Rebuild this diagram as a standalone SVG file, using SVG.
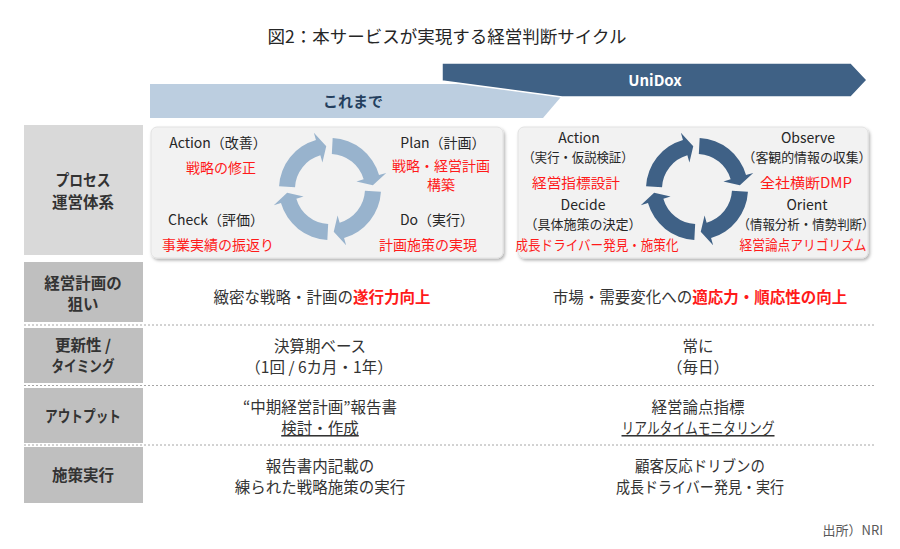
<svg xmlns="http://www.w3.org/2000/svg" xmlns:xlink="http://www.w3.org/1999/xlink" width="900" height="549" viewBox="0 0 900 549">
<defs>
<style>
text{font-family:"Noto Sans CJK JP","Noto Sans",sans-serif;}
.title{font-size:17.5px;fill:#262626;}
.hdr{font-size:15.5px;font-weight:bold;fill:#333;text-anchor:middle;}
.blk{font-size:14px;fill:#262626;text-anchor:middle;}
.sub{font-size:13px;fill:#262626;text-anchor:middle;}
.red{font-size:14px;fill:#ff1a1a;text-anchor:middle;}
.cell{font-size:15.5px;fill:#333;text-anchor:middle;}
.em{fill:#ff1a1a;font-weight:bold;}
.hcell1{fill:#d9d9d9;}
.hcell{fill:#bfbfbf;}
.panel{fill:#f2f2f2;stroke:#e2e2e2;stroke-width:1;}
.dots{stroke:#a6a6a6;stroke-width:1;stroke-dasharray:2 2;}
</style>
<filter id="sh" x="-5%" y="-5%" width="112%" height="115%">
<feDropShadow dx="1.5" dy="2" stdDeviation="1.5" flood-color="#000" flood-opacity="0.3"/>
</filter>
<path id="arc" d="M 2.669 -50.930 A 51 51 0 0 1 49.024 -14.058 L 56.234 -16.125 L 42.836 -3.748 L 26.435 -7.580 L 33.644 -9.647 A 35 35 0 0 0 1.832 -34.952 Z"/>
</defs>
<rect width="900" height="549" fill="#fff"/>

<text class="title" x="447" y="43" text-anchor="middle">図2：本サービスが実現する経営判断サイクル</text>

<g id="banner-koremade">
<polygon points="150,84 572,84 543,118 150,118" fill="#bccee0"/>
<text x="353" y="107" font-size="15" font-weight="bold" fill="#243f5e" text-anchor="middle">これまで</text>
</g>
<g id="banner-unidox">
<polygon points="442,63 851,63 867,80 851,97 562,97 442,81" fill="#3f6185" stroke="#fff" stroke-width="1.5"/>
<text x="655" y="86" font-size="15" font-weight="bold" fill="#fff" text-anchor="middle">UniDox</text>
</g>

<g id="row-labels">
<rect class="hcell1" x="24" y="125" width="119" height="130"/>
<text class="hdr" x="83" y="186" textLength="55" lengthAdjust="spacingAndGlyphs">プロセス</text>
<text class="hdr" x="83" y="208">運営体系</text>
<rect class="hcell" x="24" y="262" width="119" height="60"/>
<text class="hdr" x="83" y="289">経営計画の</text>
<text class="hdr" x="83" y="310">狙い</text>
<rect class="hcell" x="24" y="328" width="119" height="55"/>
<text class="hdr" x="83" y="351">更新性 /</text>
<text class="hdr" x="83" y="372" textLength="63" lengthAdjust="spacingAndGlyphs">タイミング</text>
<rect class="hcell" x="24" y="388" width="119" height="55"/>
<text class="hdr" x="83" y="422" textLength="76" lengthAdjust="spacingAndGlyphs">アウトプット</text>
<rect class="hcell" x="24" y="447" width="119" height="56"/>
<text class="hdr" x="83" y="481">施策実行</text>
</g>

<g id="separators">
<line class="dots" x1="24" y1="325" x2="875" y2="325"/>
<line class="dots" x1="24" y1="385.5" x2="875" y2="385.5"/>
<line class="dots" x1="24" y1="445" x2="875" y2="445"/>
</g>

<g id="panel-pdca">
<rect class="panel" x="151" y="127" width="352" height="131" rx="6" filter="url(#sh)"/>
<g fill="#98b3cd">
<use xlink:href="#arc" transform="translate(330,189)"/>
<use xlink:href="#arc" transform="translate(330,189) rotate(90)"/>
<use xlink:href="#arc" transform="translate(330,189) rotate(180)"/>
<use xlink:href="#arc" transform="translate(330,189) rotate(270)"/>
</g>
<text class="blk" x="218" y="148">Action（改善）</text>
<text class="red" x="221" y="173">戦略の修正</text>
<text class="blk" x="443" y="148">Plan（計画）</text>
<text class="red" x="441" y="171" textLength="98" lengthAdjust="spacingAndGlyphs">戦略・経営計画</text>
<text class="red" x="441" y="190">構築</text>
<text class="blk" x="216" y="225">Check（評価）</text>
<text class="red" x="218" y="250">事業実績の振返り</text>
<text class="blk" x="437" y="225">Do（実行）</text>
<text class="red" x="428" y="250">計画施策の実現</text>
</g>

<g id="panel-ooda">
<rect class="panel" x="518" y="127" width="350" height="131" rx="6" filter="url(#sh)"/>
<g fill="#3f6186">
<use xlink:href="#arc" transform="translate(697,189)"/>
<use xlink:href="#arc" transform="translate(697,189) rotate(90)"/>
<use xlink:href="#arc" transform="translate(697,189) rotate(180)"/>
<use xlink:href="#arc" transform="translate(697,189) rotate(270)"/>
</g>
<text class="blk" x="579" y="143">Action</text>
<text class="sub" x="578" y="162" textLength="111" lengthAdjust="spacingAndGlyphs">（実行・仮説検証）</text>
<text class="red" x="576" y="188" textLength="88" lengthAdjust="spacingAndGlyphs">経営指標設計</text>
<text class="blk" x="583" y="210">Decide</text>
<text class="sub" x="583" y="229" textLength="117" lengthAdjust="spacingAndGlyphs">（具体施策の決定）</text>
<text class="red" x="597" y="250" textLength="163" lengthAdjust="spacingAndGlyphs">成長ドライバー発見・施策化</text>
<text class="blk" x="808" y="143">Observe</text>
<text class="sub" x="807" y="162" textLength="129" lengthAdjust="spacingAndGlyphs">（客観的情報の収集）</text>
<text class="red" x="806" y="188" textLength="92" lengthAdjust="spacingAndGlyphs">全社横断DMP</text>
<text class="blk" x="807" y="210">Orient</text>
<text class="sub" x="806" y="229" textLength="137" lengthAdjust="spacingAndGlyphs">（情報分析・情勢判断）</text>
<text class="red" x="803" y="250" textLength="127" lengthAdjust="spacingAndGlyphs">経営論点アリゴリズム</text>
</g>

<g id="row-aim">
<text class="cell" x="322" y="303">緻密な戦略・計画の<tspan class="em">遂行力向上</tspan></text>
<text class="cell" x="700" y="303">市場・需要変化への<tspan class="em">適応力・順応性の向上</tspan></text>
</g>
<g id="row-timing">
<text class="cell" x="320" y="352">決算期ベース</text>
<text class="cell" x="319" y="373">（1回 / 6カ月・1年）</text>
<text class="cell" x="698" y="352">常に</text>
<text class="cell" x="698" y="373">（毎日）</text>
</g>
<g id="row-output">
<text class="cell" x="320" y="413">“中期経営計画”報告書</text>
<text class="cell" x="320" y="434" text-decoration="underline">検討・作成</text>
<text class="cell" x="698" y="413">経営論点指標</text>
<text class="cell" x="698" y="434" text-decoration="underline" textLength="153" lengthAdjust="spacingAndGlyphs">リアルタイムモニタリング</text>
</g>
<g id="row-exec">
<text class="cell" x="320" y="472">報告書内記載の</text>
<text class="cell" x="320" y="493">練られた戦略施策の実行</text>
<text class="cell" x="700" y="472" textLength="130" lengthAdjust="spacingAndGlyphs">顧客反応ドリブンの</text>
<text class="cell" x="700" y="493" textLength="168" lengthAdjust="spacingAndGlyphs">成長ドライバー発見・実行</text>
</g>

<text x="883" y="535" font-size="13" fill="#595959" text-anchor="end">出所）NRI</text>
</svg>
